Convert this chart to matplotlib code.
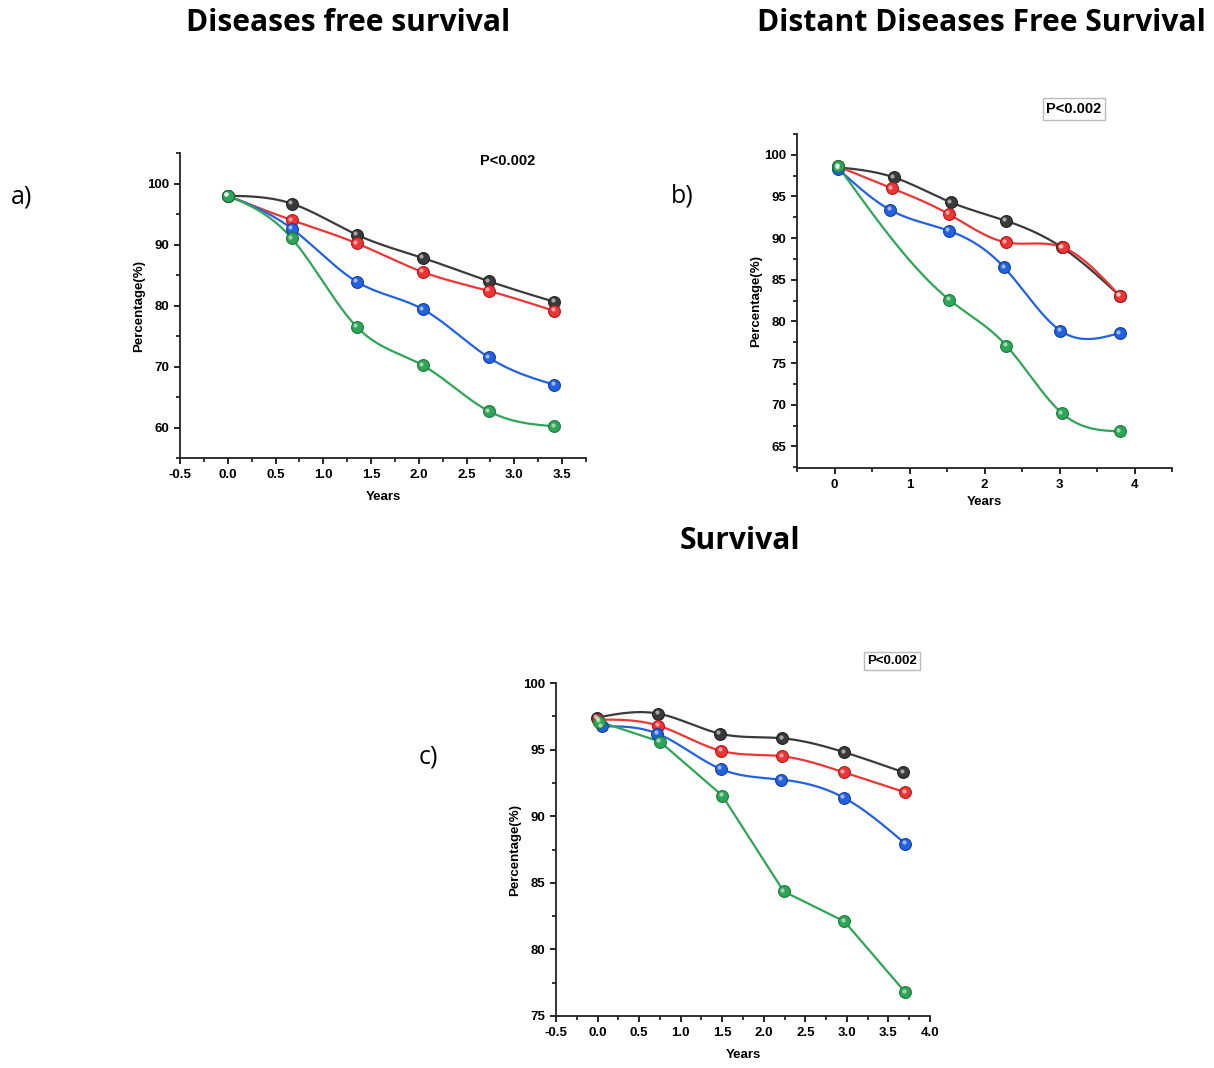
import numpy as np
import matplotlib
matplotlib.use("Agg")
import matplotlib.pyplot as plt
from matplotlib.ticker import MultipleLocator
from matplotlib.transforms import offset_copy

plt.rcParams["axes.unicode_minus"] = False

# Panel a) Diseases free survival
a_x = [0.0, 0.67, 1.35, 2.04, 2.73, 3.42]
a_black = [98.0, 96.7, 91.6, 87.8, 84.0, 80.6]
a_red = [98.0, 94.0, 90.2, 85.5, 82.4, 79.1]
a_blue = [98.0, 92.6, 83.9, 79.4, 71.5, 67.0]
a_green = [98.0, 91.0, 76.5, 70.2, 62.7, 60.2]

# Panel b) Distant diseases free survival
b_x_black = [0.05, 0.79, 1.55, 2.28, 3.03, 3.80]
b_black = [98.5, 97.3, 94.3, 92.1, 88.9, 83.1]
b_x_red = [0.05, 0.76, 1.52, 2.28, 3.04, 3.80]
b_red = [98.6, 96.0, 92.9, 89.5, 88.9, 83.1]
b_x_blue = [0.05, 0.74, 1.52, 2.26, 3.01, 3.80]
b_blue = [98.3, 93.4, 90.9, 86.5, 78.9, 78.6]
b_x_green = [0.05, 1.53, 2.29, 3.03, 3.80]
b_green = [98.6, 82.6, 77.1, 69.0, 66.8]

# Panel c) Survival
c_x_black = [-0.01, 0.73, 1.47, 2.22, 2.97, 3.68]
c_black = [97.4, 97.7, 96.2, 95.85, 94.8, 93.3]
c_x_red = [0.01, 0.73, 1.49, 2.22, 2.96, 3.70]
c_red = [97.25, 96.8, 94.9, 94.5, 93.3, 91.8]
c_x_blue = [0.05, 0.72, 1.48, 2.21, 2.96, 3.70]
c_blue = [96.75, 96.2, 93.55, 92.75, 91.4, 87.95]
c_x_green = [0.02, 0.75, 1.50, 2.24, 2.97, 3.70]
c_green = [97.1, 95.6, 91.55, 84.35, 82.1, 76.8]

COLORS = {"black": "#3a3a3a", "red": "#ee3535", "blue": "#2262e0", "green": "#2fa557"}
EDGES = {"black": "#222222", "red": "#b01818", "blue": "#10409a", "green": "#1b7a3c"}

W, H = 1214, 1068
TICK_FONT = {"family": "Liberation Sans", "weight": "bold", "size": 9.5}
LABEL_FONT = {"family": "Liberation Sans", "weight": "bold", "size": 9.5}
TITLE_FONT = "Open Sans"


def natural_spline(x, y, n=200):
    # plain natural cubic spline, no scipy needed
    x = np.asarray(x, float)
    y = np.asarray(y, float)
    k = len(x)
    h = np.diff(x)
    A = np.zeros((k, k))
    r = np.zeros(k)
    A[0, 0] = A[-1, -1] = 1
    for i in range(1, k - 1):
        A[i, i - 1] = h[i - 1]
        A[i, i] = 2 * (h[i - 1] + h[i])
        A[i, i + 1] = h[i]
        r[i] = 3 * ((y[i + 1] - y[i]) / h[i] - (y[i] - y[i - 1]) / h[i - 1])
    c = np.linalg.solve(A, r)
    xs = np.linspace(x[0], x[-1], n)
    idx = np.clip(np.searchsorted(x, xs) - 1, 0, k - 2)
    dx = xs - x[idx]
    b = (y[1:] - y[:-1]) / h - h * (2 * c[:-1] + c[1:]) / 3
    d = (c[1:] - c[:-1]) / (3 * h)
    ys = y[idx] + b[idx] * dx + c[idx] * dx ** 2 + d[idx] * dx ** 3
    return xs, ys


def draw_series(fig, ax, x, y, name, smooth=True):
    if smooth:
        xs, ys = natural_spline(x, y)
    else:
        xs, ys = x, y
    ax.plot(xs, ys, color=COLORS[name], lw=1.6, zorder=2)
    ax.plot(x, y, "o", ms=8.5, color=COLORS[name], mec=EDGES[name], mew=0.8, zorder=3)
    hl = offset_copy(ax.transData, fig=fig, x=-1.5, y=1.5, units="dots")
    ax.plot(x, y, "o", ms=3, color="white", alpha=0.55, mew=0, transform=hl, zorder=4)


def style_axes(ax, xlim, ylim, xmaj, ymaj):
    ax.set_xlim(*xlim)
    ax.set_ylim(*ylim)
    ax.xaxis.set_major_locator(MultipleLocator(xmaj))
    ax.xaxis.set_minor_locator(MultipleLocator(xmaj / 2))
    ax.yaxis.set_major_locator(MultipleLocator(ymaj))
    ax.yaxis.set_minor_locator(MultipleLocator(ymaj / 2))
    for s in ["top", "right"]:
        ax.spines[s].set_visible(False)
    for s in ["left", "bottom"]:
        ax.spines[s].set_linewidth(1.3)
        ax.spines[s].set_color("#222222")
    ax.tick_params(which="major", direction="out", length=4, width=1.2, pad=4)
    ax.tick_params(which="minor", direction="out", length=3, width=1.1)
    for lbl in ax.get_xticklabels() + ax.get_yticklabels():
        lbl.set_fontproperties(TICK_FONT)
    ax.set_xlabel("Years", fontdict=LABEL_FONT, labelpad=7)
    ax.set_ylabel("Percentage(%)", fontdict=LABEL_FONT, labelpad=1)


def px_axes(fig, left, top, right, bottom):
    return fig.add_axes([left / W, 1 - bottom / H, (right - left) / W, (bottom - top) / H])


fig = plt.figure(figsize=(W / 100, H / 100), dpi=100)

# a)
ax_a = px_axes(fig, 180, 153, 586, 458)
draw_series(fig, ax_a, a_x, a_black, "black")
draw_series(fig, ax_a, a_x, a_red, "red")
draw_series(fig, ax_a, a_x, a_blue, "blue")
draw_series(fig, ax_a, a_x, a_green, "green")
style_axes(ax_a, (-0.5, 3.75), (55, 105), 0.5, 10)
ax_a.set_yticks([60, 70, 80, 90, 100])
fig.text(508 / W, 1 - 161 / H, "P<0.002", ha="center", va="center",
         fontdict={"family": "Liberation Sans", "weight": "bold", "size": 10.5})

# b)
ax_b = px_axes(fig, 797, 134, 1172, 468)
draw_series(fig, ax_b, b_x_black, b_black, "black")
draw_series(fig, ax_b, b_x_red, b_red, "red")
draw_series(fig, ax_b, b_x_blue, b_blue, "blue")
draw_series(fig, ax_b, b_x_green, b_green, "green")
style_axes(ax_b, (-0.5, 4.5), (62.4, 102.5), 1, 5)
ax_b.set_yticks([65, 70, 75, 80, 85, 90, 95, 100])
ax_b.xaxis.set_label_coords(0.5, -0.085)
fig.text(1074 / W, 1 - 109 / H, "P<0.002", ha="center", va="center",
         fontdict={"family": "Liberation Sans", "weight": "bold", "size": 10.5},
         bbox=dict(boxstyle="square,pad=0.25", fc="white", ec="#bbbbbb", lw=1))

# c)
ax_c = px_axes(fig, 556, 683, 930, 1016)
draw_series(fig, ax_c, c_x_black, c_black, "black")
draw_series(fig, ax_c, c_x_red, c_red, "red")
draw_series(fig, ax_c, c_x_blue, c_blue, "blue")
draw_series(fig, ax_c, c_x_green, c_green, "green", smooth=False)
style_axes(ax_c, (-0.5, 4.0), (75, 100), 0.5, 5)
fig.text(892 / W, 1 - 661 / H, "P<0.002", ha="center", va="center",
         fontdict={"family": "Liberation Sans", "weight": "bold", "size": 9.5},
         bbox=dict(boxstyle="square,pad=0.25", fc="white", ec="#bbbbbb", lw=1))

# titles and panel letters
fig.text(348 / W, 1 - 23 / H, "Diseases free survival", ha="center", va="center",
         family=TITLE_FONT, weight="bold", fontsize=21.6)
fig.text(981 / W, 1 - 23 / H, "Distant Diseases Free Survival", ha="center", va="center",
         family=TITLE_FONT, weight="bold", fontsize=21.6)
fig.text(740 / W, 1 - 541 / H, "Survival", ha="center", va="center",
         family=TITLE_FONT, weight="bold", fontsize=21.6)
fig.text(22 / W, 1 - 197 / H, "a)", ha="center", va="center", family=TITLE_FONT, fontsize=18)
fig.text(682 / W, 1 - 196 / H, "b)", ha="center", va="center", family=TITLE_FONT, fontsize=18)
fig.text(428 / W, 1 - 757 / H, "c)", ha="center", va="center", family=TITLE_FONT, fontsize=18)

fig.savefig("out.png", dpi=100, facecolor="white")
